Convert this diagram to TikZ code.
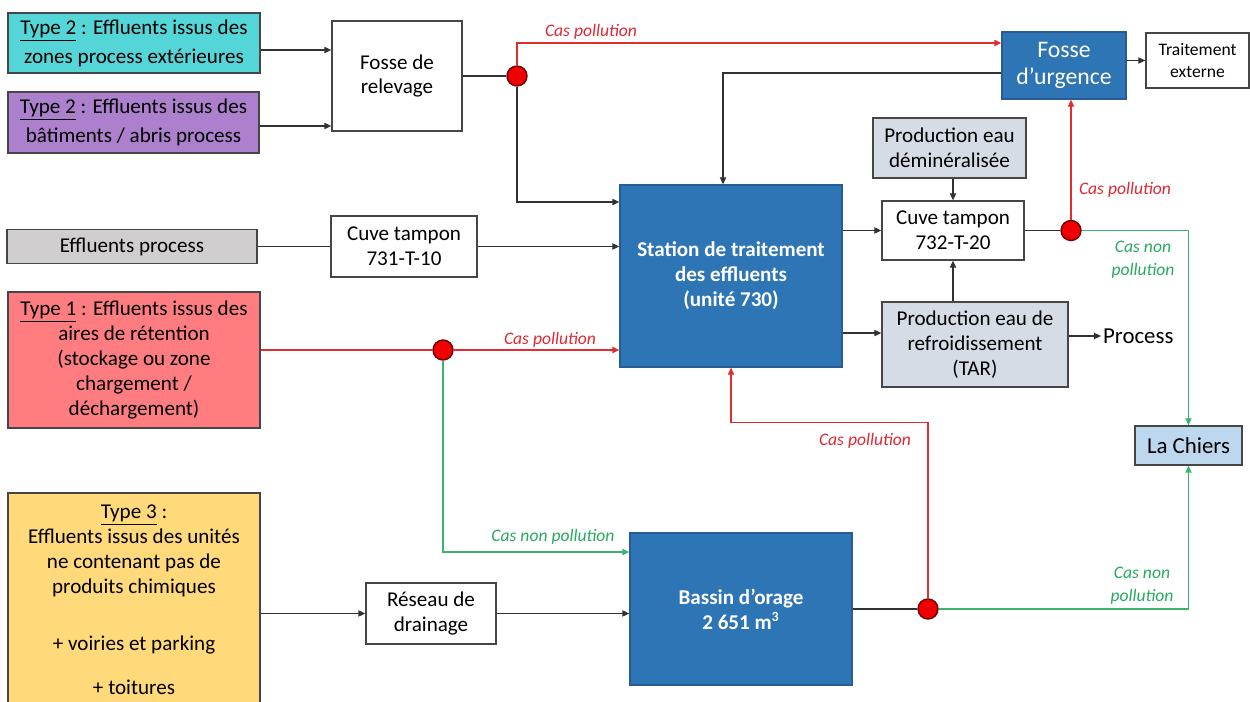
\documentclass[tikz,border=0pt]{standalone}
\usepackage{fontspec}
\setmainfont{Carlito}
\usetikzlibrary{arrows.meta,calc}
\definecolor{cyanbox}{RGB}{84,213,216}
\definecolor{purplebox}{RGB}{172,128,204}
\definecolor{graybox}{RGB}{208,206,206}
\definecolor{redbox}{RGB}{255,124,128}
\definecolor{yellowbox}{RGB}{255,217,122}
\definecolor{bluebox}{RGB}{46,117,182}
\definecolor{bluedark}{RGB}{40,92,150}
\definecolor{steelbox}{RGB}{214,220,229}
\definecolor{lightblue}{RGB}{189,215,238}
\definecolor{boxline}{RGB}{70,70,70}
\definecolor{lnclr}{RGB}{50,50,50}
\definecolor{redln}{RGB}{225,45,45}
\definecolor{greenln}{RGB}{60,180,110}
\definecolor{redtxt}{RGB}{225,40,50}
\definecolor{greentxt}{RGB}{40,170,95}
\definecolor{dotred}{RGB}{240,0,0}
\definecolor{dotdark}{RGB}{110,0,0}
\begin{document}
\begin{tikzpicture}[x=0.02cm,y=-0.02cm,
  box/.style={draw=boxline, line width=0.8pt, inner sep=0pt, align=center,
    font=\fontsize{12}{14.2}\selectfont},
  bluebx/.style={box, fill=bluebox, draw=bluedark, text=white},
  ln/.style={draw=lnclr, line width=0.6pt},
  arr/.style={ln, -{Triangle[length=4pt,width=3.6pt]}},
  redl/.style={draw=redln, line width=0.6pt},
  redarr/.style={redl, -{Triangle[length=4pt,width=3.6pt]}},
  greenarr/.style={draw=greenln, line width=0.6pt, -{Triangle[length=4pt,width=3.6pt]}},
  dot/.style={circle, fill=dotred, draw=dotdark, line width=0.8pt, minimum size=0.4cm, inner sep=0pt},
  lbl/.style={font=\fontsize{10}{13}\selectfont\itshape, align=center, inner sep=0pt}]
\useasboundingbox (0,0) rectangle (1250,702);
\clip (0,0) rectangle (1250,702);
\fill[white] (0,0) rectangle (1250,702);

% nodes
\node[box, fill=cyanbox, minimum width=5.04cm, minimum height=1.2cm,
  font=\fontsize{12}{16.5}\selectfont] (t2a) at (134,43)
  {\underline{Type 2} : Effluents issus des\\zones process extérieures};
\node[box, fill=purplebox, minimum width=5.02cm, minimum height=1.22cm,
  font=\fontsize{12}{16.5}\selectfont] (t2b) at (133.5,122.5)
  {\underline{Type 2} : Effluents issus des\\bâtiments / abris process};
\node[box, fill=white, minimum width=2.6cm, minimum height=2.2cm] (relev) at (397,76)
  {Fosse de\\relevage};
\node[bluebx, minimum width=2.48cm, minimum height=1.34cm,
  font=\fontsize{13.5}{15.4}\selectfont] (urg) at (1064,65.5) {Fosse\\d’urgence};
\node[box, fill=white, minimum width=2.06cm, minimum height=1.1cm,
  font=\fontsize{10}{12.5}\selectfont] (ext) at (1197.5,60.5) {Traitement\\externe};
\node[bluebx, minimum width=4.44cm, minimum height=3.64cm,
  font=\fontsize{12}{14.2}\selectfont\bfseries] (station) at (731,276)
  {Station de traitement\\des effluents\\(unité 730)};
\node[box, fill=steelbox, minimum width=3.06cm, minimum height=1.2cm] (demin) at (949.5,148)
  {Production eau\\déminéralisée};
\node[box, fill=white, minimum width=2.84cm, minimum height=1.18cm] (cuve2) at (953,230.5)
  {Cuve tampon\\732-T-20};
\node[box, fill=steelbox, minimum width=3.72cm, minimum height=1.7cm] (refr) at (975,344.5)
  {Production eau de\\refroidissement\\(TAR)};
\node[box, fill=lightblue, minimum width=2.14cm, minimum height=0.78cm,
  font=\fontsize{13}{15}\selectfont] (chiers) at (1188.5,445.5) {La Chiers};
\node[inner sep=1pt, font=\fontsize{13}{15}\selectfont, anchor=west] (proctxt) at (1101,336) {Process};
\node[box, fill=graybox, minimum width=5.0cm, minimum height=0.68cm] (proc) at (132,246.5)
  {Effluents process};
\node[box, fill=white, minimum width=2.92cm, minimum height=1.22cm] (cuve1) at (404,246.5)
  {Cuve tampon\\731-T-10};
\node[box, fill=redbox, minimum width=5.04cm, minimum height=2.72cm] (t1) at (134,360)
  {\underline{Type 1} : Effluents issus des\\aires de rétention\\(stockage ou zone\\chargement /\\déchargement)};
\node[box, fill=yellowbox, minimum width=5.04cm, minimum height=4.28cm] (t3) at (134,600)
  {\underline{Type 3} :\\Effluents issus des unités\\ne contenant pas de\\produits chimiques\\[18pt]+ voiries et parking\\[11pt]+ toitures};
\node[box, fill=white, minimum width=2.6cm, minimum height=1.22cm] (drain) at (431,613.5)
  {Réseau de\\drainage};
\node[bluebx, minimum width=4.44cm, minimum height=3.04cm,
  font=\fontsize{12}{14.2}\selectfont\bfseries] (bassin) at (741,609)
  {Bassin d’orage\\2 651 m\textsuperscript{3}};

% junction dots
\node[dot] (c1) at (517,76) {};
\node[dot] (c2) at (1071,230.5) {};
\node[dot] (c3) at (443,350) {};
\node[dot] (c4) at (928,609) {};

% helper coordinates
\coordinate (a1) at ([yshift=-0.14cm]t2a.east);
\coordinate (a2) at ([yshift=-0.07cm]t2b.east);
\coordinate (u1) at ([yshift=0.45cm]urg.west);
\coordinate (u2) at ([yshift=-0.15cm]urg.west);
\coordinate (s1) at ([yshift=1.48cm]station.west);
\coordinate (s2) at ([xshift=-0.16cm]station.north);
\coordinate (r1) at ([yshift=0.23cm]refr.west);
\coordinate (b1) at ([yshift=1.14cm]bassin.west);

% connectors
\draw[arr] (a1) -- (a1 -| relev.west);
\draw[arr] (a2) -- (a2 -| relev.west);
\draw[ln] (relev.east) -- (c1);
\draw[redarr] (c1) |- (u1);
\draw[arr] (c1) |- (s1);
\draw[arr] (u2) -| (s2);
\draw[arr] (ext.west -| urg.east) -- (ext.west);
\draw[ln] (proc.east) -- (proc.east -| cuve1.west);
\draw[arr] (cuve1.east) -- (cuve1.east -| station.west);
\draw[arr] (cuve2.west -| station.east) -- (cuve2.west);
\draw[arr] (r1 -| station.east) -- (r1);
\draw[arr] (demin.south -| cuve2.north) -- (cuve2.north);
\draw[arr] (cuve2.south |- refr.north) -- (cuve2.south);
\draw[ln] (cuve2.east) -- (c2);
\draw[redarr] (c2) -- (c2 |- urg.south);
\draw[greenarr] (c2) -| (chiers.north);
\draw[arr] (proctxt.west -| refr.east) -- (proctxt.west);
\draw[redl] (c3 -| t1.east) -- (c3);
\draw[redarr] (c3) -- (c3 -| station.west);
\draw[greenarr] (c3) |- (b1);
\draw[arr] (drain.west -| t3.east) -- (drain.west);
\draw[arr] (drain.east) -- (drain.east -| bassin.west);
\draw[ln] (bassin.east |- c4) -- (c4);
\draw[redarr] (c4) |- ([yshift=-1.1cm]station.south) -- (station.south);
\draw[greenarr] (c4) -| (chiers.south);

% labels
\node[lbl, text=redtxt] (l1) at (591,32) {Cas pollution};
\node[lbl, text=redtxt] (l2) at (1125,190) {Cas pollution};
\node[lbl, text=greentxt] (l3) at (1143,259.5) {Cas non\\pollution};
\node[lbl, text=redtxt] (l4) at (550,340) {Cas pollution};
\node[lbl, text=greentxt] (l5) at (553,537) {Cas non pollution};
\node[lbl, text=redtxt] (l6) at (865,441) {Cas pollution};
\node[lbl, text=greentxt] (l7) at (1142,585.5) {Cas non\\pollution};
\end{tikzpicture}
\end{document}
